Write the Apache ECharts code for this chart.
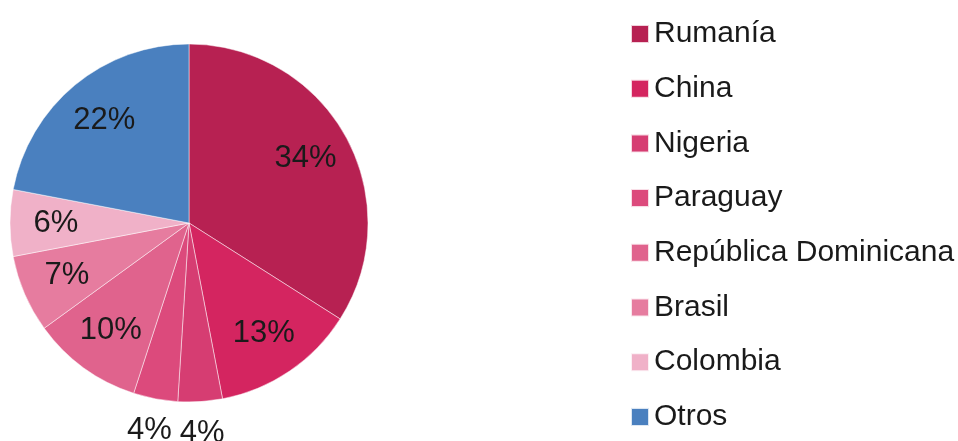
<!DOCTYPE html>
<html>
<head>
<meta charset="utf-8">
<script src="https://cdn.jsdelivr.net/npm/echarts@6/dist/echarts.min.js"></script>
<style>html,body{margin:0;padding:0;background:#fff}#c{width:958px;height:441px}</style>
</head>
<body>
<div id="c"></div>
<script>
var categories = ['Rumanía', 'China', 'Nigeria', 'Paraguay', 'República Dominicana', 'Brasil', 'Colombia', 'Otros'];
var values = [34, 13, 4, 4, 10, 7, 6, 22];
var colors = ['#B72152', '#D42560', '#D63D72', '#DC4A7C', '#E0638D', '#E67C9F', '#F0B1C8', '#4A80BF'];
var outsideLabels = ['Nigeria', 'Paraguay'];

var FONT = '"Liberation Sans", Arial, Helvetica, sans-serif';
var chart = echarts.init(document.getElementById('c'), null, {renderer: 'canvas'});

function mk(labelFilter) {
  return categories.map(function (n, i) {
    return {
      name: n, value: values[i],
      label: {show: labelFilter(n)}
    };
  });
}

var common = {
  type: 'pie', center: [189, 223], startAngle: 90, clockwise: true,
  avoidLabelOverlap: false, animation: false, silent: true, legendHoverLink: false
};

chart.setOption({
  animation: false,
  color: colors,
  legend: {
    orient: 'vertical', left: 630, top: 19, padding: 0,
    itemWidth: 18, itemHeight: 18, itemGap: 24.7,
    icon: 'rect', selectedMode: false,
    data: categories,
    textStyle: {fontFamily: FONT, fontSize: 30, color: '#1a1a1a', lineHeight: 30}
  },
  series: [
    Object.assign({}, common, {
      name: 'main', radius: [0, 179],
      data: categories.map(function (n, i) { return {name: n, value: values[i], itemStyle: {color: colors[i]}}; }),
      itemStyle: {borderColor: 'rgba(255,255,255,0.8)', borderWidth: 0.6},
      label: {show: false}, labelLine: {show: false}
    }),
    Object.assign({}, common, {
      name: 'lab', radius: [81, 179],
      data: mk(function (n) { return outsideLabels.indexOf(n) < 0; }),
      itemStyle: {color: 'rgba(0,0,0,0)'},
      label: {position: 'inside', fontFamily: FONT, fontSize: 31, color: '#1a1a1a', formatter: '{d}%'},
      labelLine: {show: false}
    }),
    Object.assign({}, common, {
      name: 'lab2', radius: [190, 226],
      data: mk(function (n) { return outsideLabels.indexOf(n) >= 0; }),
      itemStyle: {color: 'rgba(0,0,0,0)'},
      label: {position: 'inside', fontFamily: FONT, fontSize: 31, color: '#1a1a1a', formatter: '{d}%'},
      labelLine: {show: false}
    })
  ]
});
</script>
</body>
</html>
